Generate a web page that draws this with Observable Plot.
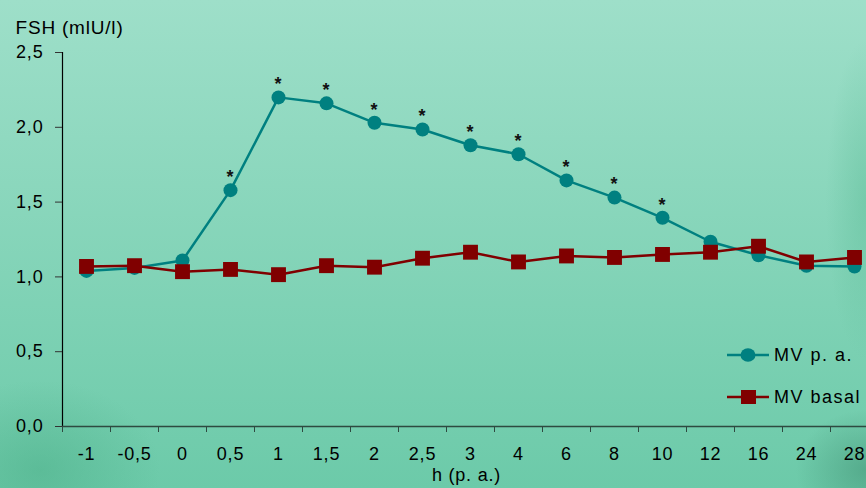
<!DOCTYPE html>
<html>
<head>
<meta charset="utf-8">
<script src="https://cdn.jsdelivr.net/npm/d3@7"></script>
<script src="https://cdn.jsdelivr.net/npm/@observablehq/plot@0.6"></script>
<style>
  html, body { margin: 0; padding: 0; width: 866px; height: 488px; overflow: hidden; }
  body {
    position: relative;
    font-family: "Liberation Sans", Arial, sans-serif;
    background:
      radial-gradient(ellipse 120px 90px at 40px 470px, rgba(70,170,130,0.45), rgba(70,170,130,0) 100%),
      radial-gradient(ellipse 40px 160px at 866px 200px, rgba(80,180,140,0.35), rgba(80,180,140,0) 100%),
      radial-gradient(ellipse 70px 60px at 866px 470px, rgba(60,140,110,0.5), rgba(60,140,110,0) 100%),
      linear-gradient(#9edfc9, #6ccaa9);
  }
  #chart { position: absolute; left: 0; top: 0; }
  #chart svg { background: transparent; overflow: hidden; }
  #chart svg text { letter-spacing: 0.8px; }
  .legend { position: absolute; left: 727px; font-size: 18px; letter-spacing: 1.5px; color: #000; }
  .legend .row { position: absolute; left: 0; white-space: nowrap; display: flex; align-items: center; }
  .legend svg { display: block; }
  .legend span { margin-left: 5px; }
</style>
</head>
<body>
<div id="chart"></div>
<div class="legend">
  <div class="row" style="top:343px">
    <svg width="42" height="24"><line x1="0" y1="12" x2="42" y2="12" stroke="#008080" stroke-width="2.5"/><ellipse cx="21" cy="12" rx="7.5" ry="6.8" fill="#008080"/></svg>
    <span>MV p. a.</span>
  </div>
  <div class="row" style="top:385px">
    <svg width="42" height="24"><line x1="0" y1="12" x2="42" y2="12" stroke="#800000" stroke-width="2.5"/><rect x="14" y="5" width="15" height="14" fill="#800000"/></svg>
    <span>MV basal</span>
  </div>
</div>
<script>
// ---- data ----
const hours = ["-1","-0,5","0","0,5","1","1,5","2","2,5","3","4","6","8","10","12","16","24","28"];
const mvPA = [1.04, 1.06, 1.11, 1.58, 2.20, 2.16, 2.03, 1.985, 1.88, 1.82, 1.645, 1.53, 1.395, 1.235, 1.145, 1.075, 1.07];
const mvBasal = [1.07, 1.075, 1.035, 1.05, 1.015, 1.075, 1.065, 1.125, 1.165, 1.10, 1.14, 1.13, 1.15, 1.165, 1.205, 1.10, 1.13];
const significant = [false, false, false, true, true, true, true, true, true, true, true, true, true, false, false, false, false];
const yTicks = [0, 0.5, 1, 1.5, 2, 2.5];

const rows = hours.map((h, i) => ({i, h, pa: mvPA[i], basal: mvBasal[i], sig: significant[i]}));
const comma = d => d.toFixed(1).replace(".", ",");

const fontFamily = '"Liberation Sans", Arial, sans-serif';

const chart = Plot.plot({
  width: 866,
  height: 488,
  marginLeft: 62,
  marginRight: 0,
  marginTop: 52,
  marginBottom: 62,
  style: { background: "transparent", fontFamily, fontSize: "18px", color: "#000" },
  x: { type: "linear", domain: [-0.5, hours.length - 0.5], range: [62, 62 + 48 * hours.length] },
  y: { domain: [0, 2.5] },
  marks: [
    // y axis
    Plot.frame({ anchor: "left", stroke: "#000", strokeWidth: 1.2 }),
    Plot.axisY({ ticks: yTicks, tickSize: 7, tickPadding: 12, tickFormat: comma, fontSize: 18, label: null, stroke: "#333", fill: "#000" }),
    // x axis line + boundary ticks
    Plot.ruleY([0], { stroke: "#2e4a40", strokeWidth: 1.6 }),
    Plot.axisX({ ticks: d3.range(-0.5, hours.length - 0.5, 1), tickSize: 6, tickFormat: () => "", label: null, stroke: "#2e4a40" }),
    Plot.axisX({ ticks: d3.range(hours.length), tickSize: 0, tickPadding: 21, tickFormat: i => hours[i], fontSize: 18, label: null, fill: "#000" }),
    // title and x label
    Plot.text(["FSH (mlU/l)"], { frameAnchor: "top-left", dx: -47, dy: -32, textAnchor: "start", fontSize: 19, fill: "#000" }),
    Plot.text(["h (p. a.)"], { frameAnchor: "bottom", dx: 2, dy: 54, fontSize: 18, fill: "#000" }),
    // MV p.a.
    Plot.line(rows, { x: "i", y: "pa", stroke: "#008080", strokeWidth: 2.5 }),
    Plot.dot(rows, { x: "i", y: "pa", r: 7, fill: "#008080", stroke: "none" }),
    Plot.text(rows.filter(d => d.sig), { x: "i", y: "pa", text: () => "*", dy: -13, fontSize: 18, fontWeight: "bold", fill: "#111" }),
    // MV basal
    Plot.line(rows, { x: "i", y: "basal", stroke: "#800000", strokeWidth: 2.5 }),
    Plot.dot(rows, { x: "i", y: "basal", symbol: "square", r: 8.4, fill: "#800000", stroke: "none" })
  ]
});
document.getElementById("chart").appendChild(chart);
</script>
</body>
</html>
